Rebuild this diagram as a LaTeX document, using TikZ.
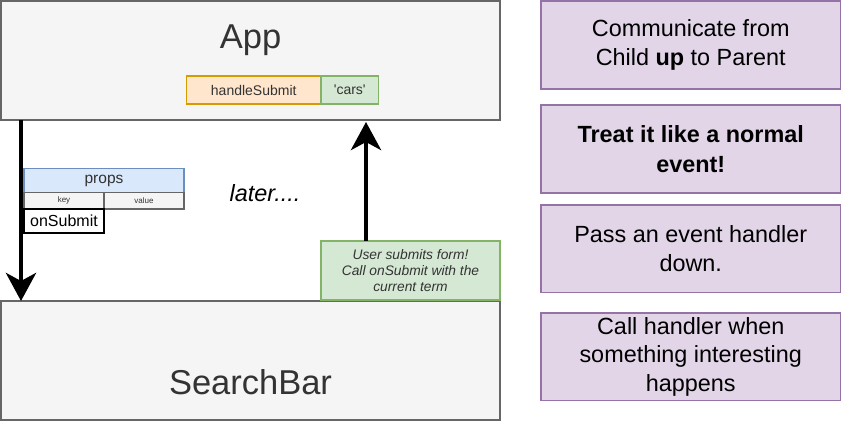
\documentclass[tikz,border=0pt]{standalone}
\usepackage{fontspec}
\setmainfont{Liberation Sans}[Ligatures=TeXOff]
\usetikzlibrary{arrows.meta,calc}
\definecolor{grayfill}{HTML}{F5F5F5}
\definecolor{grayline}{HTML}{666666}
\definecolor{purfill}{HTML}{E1D5E7}
\definecolor{purline}{HTML}{9673A6}
\definecolor{orfill}{HTML}{FFE6CC}
\definecolor{orline}{HTML}{D79B00}
\definecolor{grfill}{HTML}{D5E8D4}
\definecolor{grline}{HTML}{82B366}
\definecolor{blfill}{HTML}{DAE8FC}
\definecolor{blline}{HTML}{6C8EBF}
\definecolor{txtgray}{HTML}{333333}
\begin{document}
\begin{tikzpicture}[x=1pt,y=-1pt,
  box/.style={draw, inner sep=0pt, outer sep=0pt, anchor=north west},
  bigbox/.style={box, fill=grayfill, draw=grayline, line width=1.8pt},
  notebox/.style={box, fill=purfill, draw=purline, line width=1.8pt, align=center,
    minimum width=299.5pt, minimum height=88pt, text=black,
    font=\fontsize{23.4}{29.5}\selectfont},
  smallbox/.style={box, line width=1.4pt, text=txtgray},
  bigarrow/.style={line width=4.7pt, -{Stealth[length=28pt,width=30pt,inset=8pt]}},
  title/.style={font=\fontsize{34.5}{40}\selectfont, text=txtgray, anchor=base}
]
\useasboundingbox (0,0) rectangle (842,422);

% big component boxes
\node[bigbox, minimum width=499pt, minimum height=119pt] (app) at (1,1) {};
\node[title] (applbl) at (250.5,49) {App};
\node[bigbox, minimum width=499pt, minimum height=119pt] (search) at (1,301) {};
\node[title] (searchlbl) at (250.5,394) {SearchBar};

% state in App
\node[smallbox, fill=orfill, draw=orline, minimum width=134.5pt, minimum height=28pt,
  font=\fontsize{14}{16}\selectfont] (handle) at (186.5,76) {handleSubmit};
\node[smallbox, fill=grfill, draw=grline, minimum width=57.5pt, minimum height=28pt,
  font=\fontsize{14}{16}\selectfont] (cars) at (321,76) {\char"27 cars\char"27};

% arrows
\draw[bigarrow] ($(app.south west)+(20,0)$) -- ($(search.north west)+(20,0)$);

% props table
\node[smallbox, fill=blfill, draw=blline, minimum width=160pt, minimum height=24pt,
  font=\fontsize{15.5}{18}\selectfont] (props) at (24,168.5) {props};
\node[smallbox, fill=grayfill, draw=grayline, minimum width=80pt, minimum height=16.5pt,
  font=\fontsize{8}{9}\selectfont] (key) at (24,192.5) {key};
\node[smallbox, fill=grayfill, draw=grayline, minimum width=80pt, minimum height=16.5pt,
  font=\fontsize{8}{9}\selectfont] (value) at (104,192.5) {value};
\node[smallbox, fill=white, draw=black, text=black, minimum width=80pt, minimum height=24pt,
  font=\fontsize{16}{18}\selectfont] (onsub) at (24,209) {onSubmit};

\node[font=\fontsize{23.4}{28}\itshape, anchor=base, text=black] (later) at (265,201) {later....};

% note
\node[smallbox, fill=grfill, draw=grline, minimum width=179pt, minimum height=59pt,
  align=center, font=\fontsize{13.8}{16}\itshape] (note) at (321,241)
  {User submits form!\\Call onSubmit with the\\current term};

\draw[bigarrow] ($(note.north west)+(45,0)$) -- ($(app.south west)+(365,2)$);

% right-hand notes
\node[notebox, minimum height=88pt] (n1) at (541,1)
  {\fontsize{23.4}{31}\selectfont Communicate from\\Child \textbf{up} to Parent};
\node[notebox, minimum height=88pt, font=\fontsize{23.4}{29.5}\bfseries] (n2) at (541,105)
  {Treat it like a normal\\event!};
\node[notebox, minimum height=87.5pt] (n3) at (541,205)
  {Pass an event handler\\down.};
\node[notebox, minimum height=87.5pt, font=\fontsize{23.4}{28.5}\selectfont] (n4) at (541,313)
  {Call handler when\\something interesting\\happens};
\end{tikzpicture}
\end{document}
